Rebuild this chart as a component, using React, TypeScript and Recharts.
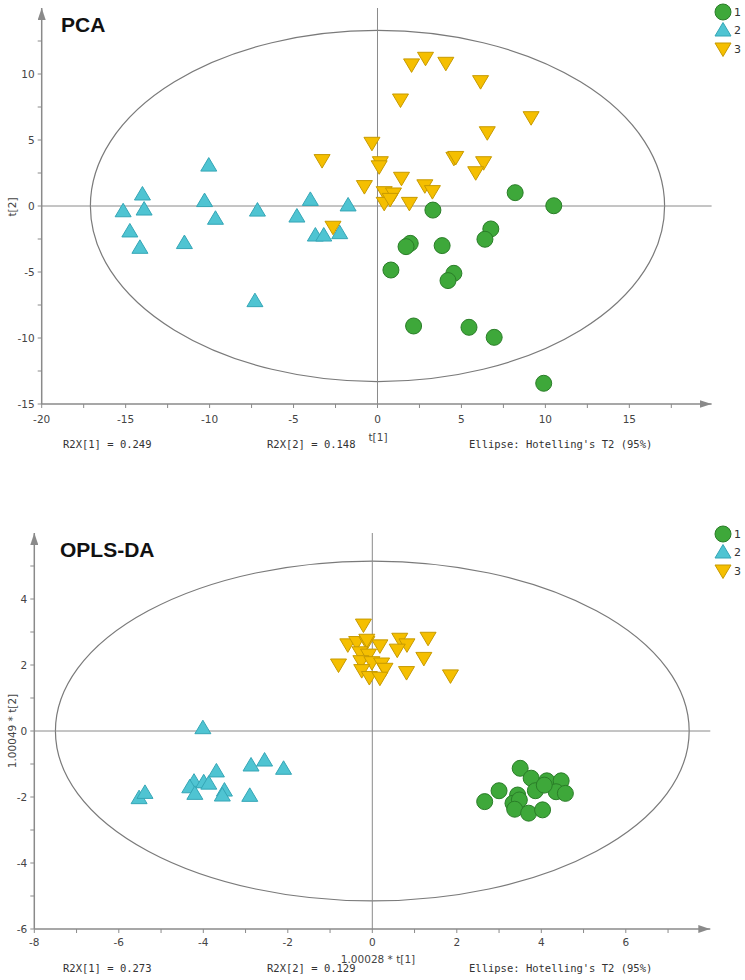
import React from 'react';
import {
  ScatterChart,
  Scatter,
  XAxis,
  YAxis,
  ReferenceLine,
  ReferenceArea,
} from 'recharts';

// score values: [x, y]
const pcaGroup1 = [
  [8.2, 1.01], [10.5, 0.02], [3.3, -0.31], [6.75, -1.74], [6.4, -2.52],
  [1.95, -2.83], [1.7, -3.08], [3.85, -3.0], [0.8, -4.85], [4.55, -5.1],
  [4.2, -5.65], [2.15, -9.09], [5.45, -9.19], [6.95, -9.95], [9.9, -13.43],
];
const pcaGroup2 = [
  [-10.05, 3.1], [-14.0, 0.91], [-15.15, -0.36], [-13.9, -0.23], [-10.3, 0.41],
  [-9.65, -0.93], [-7.15, -0.31], [-14.75, -1.89], [-14.15, -3.13], [-11.5, -2.77],
  [-7.3, -7.17], [-4.8, -0.76], [-4.0, 0.5], [-1.75, 0.08], [-3.7, -2.2],
  [-3.2, -2.2], [-2.25, -2.02],
];
const pcaGroup3 = [
  [-3.3, 3.44], [-2.65, -1.61], [-0.78, 1.47], [-0.33, 4.75], [0.17, 3.28],
  [0.1, 2.97], [0.4, 1.01], [0.95, 0.91], [0.4, 0.2], [0.75, 0.5],
  [1.9, 0.2], [1.43, 2.1], [2.82, 1.53], [3.27, 1.09], [2.03, 10.69],
  [2.86, 11.19], [4.07, 10.81], [6.14, 9.42], [1.37, 8.03], [9.15, 6.69],
  [6.54, 5.55], [4.55, 3.61], [4.66, 3.68], [6.32, 3.28], [5.85, 2.52],
];

const oplsGroup1 = [
  [3.5, -1.13], [3.76, -1.43], [4.13, -1.51], [4.47, -1.51], [3.0, -1.81],
  [2.66, -2.14], [3.86, -1.81], [4.35, -1.84], [4.57, -1.89], [3.44, -1.94],
  [3.33, -2.19], [3.48, -2.09], [3.37, -2.37], [3.7, -2.49], [4.03, -2.39],
  [4.07, -1.64],
];
const oplsGroup2 = [
  [-4.01, 0.1], [-5.52, -2.02], [-5.38, -1.86], [-4.22, -1.52], [-4.32, -1.69],
  [-4.2, -1.89], [-3.99, -1.54], [-3.87, -1.58], [-3.69, -1.21], [-3.5, -1.79],
  [-3.55, -1.94], [-2.87, -1.03], [-2.55, -0.88], [-2.1, -1.13], [-2.9, -1.95],
];
const oplsGroup3 = [
  [-0.21, 3.21], [-0.58, 2.61], [-0.37, 2.68], [-0.13, 2.68], [-0.13, 2.75],
  [0.18, 2.58], [0.65, 2.78], [0.82, 2.61], [0.59, 2.45], [1.32, 2.81],
  [1.22, 2.2], [-0.8, 2.0], [-0.29, 2.37], [-0.09, 2.3], [-0.27, 2.1],
  [-0.01, 2.07], [0.22, 2.03], [0.3, 1.87], [-0.25, 1.83], [-0.07, 1.62],
  [0.18, 1.6], [0.81, 1.77], [1.85, 1.67],
];

const pcaXTicks = [-20, -17.5, -15, -12.5, -10, -7.5, -5, -2.5, 0, 2.5, 5, 7.5, 10, 12.5, 15, 17.5];
const pcaYTicks = [-15, -12.5, -10, -7.5, -5, -2.5, 0, 2.5, 5, 7.5, 10, 12.5];
const oplsXTicks = [-8, -7, -6, -5, -4, -3, -2, -1, 0, 1, 2, 3, 4, 5, 6, 7];
const oplsYTicks = [-6, -5, -4, -3, -2, -1, 0, 1, 2, 3, 4, 5];

const classNames = ['1', '2', '3'];

const GREEN = '#3ea83a';
const GREEN_EDGE = '#2a7d28';
const CYAN = '#4fc4d2';
const CYAN_EDGE = '#35a6b6';
const GOLD = '#f5bf00';
const GOLD_EDGE = '#c79a00';
const AXIS = '#8a8a8a';

const toPoints = (pairs: number[][]) => pairs.map(([x, y]) => ({ x, y }));

function Circle({ cx, cy }: any) {
  return <circle cx={cx} cy={cy} r={8} fill={GREEN} stroke={GREEN_EDGE} strokeWidth={1} />;
}

function UpTriangle({ cx, cy }: any) {
  return (
    <path
      d={`M${cx},${cy - 7.5} L${cx + 8},${cy + 6} L${cx - 8},${cy + 6} Z`}
      fill={CYAN}
      stroke={CYAN_EDGE}
      strokeWidth={1}
    />
  );
}

function DownTriangle({ cx, cy }: any) {
  return (
    <path
      d={`M${cx - 8},${cy - 6} L${cx + 8},${cy - 6} L${cx},${cy + 7.5} Z`}
      fill={GOLD}
      stroke={GOLD_EDGE}
      strokeWidth={1}
    />
  );
}

function EllipseShape({ x, y, width, height }: any) {
  return (
    <ellipse
      cx={x + width / 2}
      cy={y + height / 2}
      rx={width / 2}
      ry={height / 2}
      fill="none"
      stroke="#7a7a7a"
      strokeWidth={1.2}
    />
  );
}

interface ScorePlotProps {
  top: number;
  height: number;
  margin: { top: number; right: number; bottom: number; left: number };
  yAxisWidth: number;
  xAxisHeight: number;
  xTickMargin: number;
  xDomain: [number, number];
  yDomain: [number, number];
  xTicks: number[];
  yTicks: number[];
  labelStep: number;
  ellipse: [number, number];
  groups: number[][][];
}

function ScorePlot({
  top,
  height,
  margin,
  yAxisWidth,
  xAxisHeight,
  xTickMargin,
  xDomain,
  yDomain,
  xTicks,
  yTicks,
  labelStep,
  ellipse,
  groups,
}: ScorePlotProps) {
  const fmt = (v: number) => (Math.abs(v % labelStep) < 1e-9 ? String(v) : '');
  const tickStyle = { fontSize: 10.5, fill: '#444', fontFamily: 'DejaVu Sans' };
  const shapes = [Circle, UpTriangle, DownTriangle];

  return (
    <div style={{ position: 'absolute', left: 0, top }}>
      <ScatterChart width={745} height={height} margin={margin}>
        <XAxis
          type="number"
          dataKey="x"
          domain={xDomain}
          ticks={xTicks}
          tickFormatter={fmt}
          allowDataOverflow
          height={xAxisHeight}
          tick={tickStyle}
          tickSize={4}
          tickMargin={xTickMargin}
          tickLine={{ stroke: AXIS }}
          axisLine={{ stroke: AXIS, strokeWidth: 1.5, markerEnd: 'url(#axisArrow)' }}
          interval={0}
        />
        <YAxis
          type="number"
          dataKey="y"
          domain={yDomain}
          ticks={yTicks}
          tickFormatter={fmt}
          allowDataOverflow
          width={yAxisWidth}
          tick={tickStyle}
          tickSize={4}
          tickMargin={3}
          tickLine={{ stroke: AXIS }}
          axisLine={{ stroke: AXIS, strokeWidth: 1.5, markerStart: 'url(#axisArrow)' }}
          interval={0}
        />
        <ReferenceLine x={0} stroke={AXIS} strokeWidth={1} />
        <ReferenceLine y={0} stroke={AXIS} strokeWidth={1} />
        <ReferenceArea
          x1={-ellipse[0]}
          x2={ellipse[0]}
          y1={-ellipse[1]}
          y2={ellipse[1]}
          shape={EllipseShape}
        />
        {groups.map((g, i) => {
          const Shape = shapes[i];
          return (
            <Scatter
              key={i}
              name={classNames[i]}
              data={toPoints(g)}
              shape={(p: any) => <Shape {...p} />}
              isAnimationActive={false}
            />
          );
        })}
      </ScatterChart>
    </div>
  );
}

function ClassLegend({ top }: { top: number }) {
  return (
    <svg width={42} height={60} style={{ position: 'absolute', left: 703, top }}>
      <Circle cx={20} cy={12} />
      <UpTriangle cx={20} cy={30} />
      <DownTriangle cx={20} cy={49} />
      {classNames.map((c, i) => (
        <text
          key={c}
          x={31}
          y={[16, 34, 53][i]}
          fontSize={11}
          fill="#333"
          fontFamily="DejaVu Sans"
        >
          {c}
        </text>
      ))}
    </svg>
  );
}

const monoStyle: React.CSSProperties = {
  position: 'absolute',
  fontFamily: 'DejaVu Sans Mono',
  fontSize: 10.5,
  color: '#333',
  whiteSpace: 'nowrap',
  lineHeight: '12px',
};

const labelStyle: React.CSSProperties = {
  position: 'absolute',
  fontFamily: 'DejaVu Sans',
  fontSize: 10.5,
  color: '#444',
  whiteSpace: 'nowrap',
  lineHeight: '12px',
};

const titleStyle: React.CSSProperties = {
  position: 'absolute',
  fontFamily: 'Liberation Sans',
  fontWeight: 'bold',
  fontSize: 21,
  color: '#111',
  lineHeight: '24px',
};

export default function App() {
  return (
    <div
      style={{
        position: 'absolute',
        left: 0,
        top: 0,
        width: 745,
        height: 980,
        background: '#fff',
        overflow: 'hidden',
      }}
    >
      <svg width={0} height={0} style={{ position: 'absolute' }}>
        <defs>
          <marker
            id="axisArrow"
            viewBox="0 0 12 8"
            refX={12}
            refY={4}
            markerWidth={12}
            markerHeight={8}
            markerUnits="userSpaceOnUse"
            orient="auto-start-reverse"
          >
            <path d="M0,0 L12,4 L0,8 Z" fill={AXIS} />
          </marker>
        </defs>
      </svg>

      {/* PCA score plot */}
      <ScorePlot
        top={0}
        height={440}
        margin={{ top: 8, right: 33.4, bottom: 6, left: 0 }}
        yAxisWidth={41.7}
        xAxisHeight={30}
        xTickMargin={8}
        xDomain={[-20, 19.9]}
        yDomain={[-15, 15]}
        xTicks={pcaXTicks}
        yTicks={pcaYTicks}
        labelStep={5}
        ellipse={[17.1, 13.3]}
        groups={[pcaGroup1, pcaGroup2, pcaGroup3]}
      />
      <div style={{ ...titleStyle, left: 61, top: 13 }}>PCA</div>
      <ClassLegend top={0} />
      <div style={{ ...labelStyle, left: 12, top: 207, transform: 'translate(-50%, -50%) rotate(-90deg)' }}>
        t[2]
      </div>
      <div style={{ ...labelStyle, left: 378, top: 431, transform: 'translateX(-50%)' }}>t[1]</div>
      <div style={{ ...monoStyle, left: 63, top: 438 }}>R2X[1] = 0.249</div>
      <div style={{ ...monoStyle, left: 267, top: 438 }}>R2X[2] = 0.148</div>
      <div style={{ ...monoStyle, left: 469, top: 438 }}>Ellipse: Hotelling's T2 (95%)</div>

      {/* OPLS-DA score plot */}
      <ScorePlot
        top={490}
        height={470}
        margin={{ top: 43, right: 34.7, bottom: 6, left: 0 }}
        yAxisWidth={34.3}
        xAxisHeight={25}
        xTickMargin={6}
        xDomain={[-8, 8]}
        yDomain={[-6, 6]}
        xTicks={oplsXTicks}
        yTicks={oplsYTicks}
        labelStep={2}
        ellipse={[7.5, 5.15]}
        groups={[oplsGroup1, oplsGroup2, oplsGroup3]}
      />
      <div style={{ ...titleStyle, left: 60, top: 538 }}>OPLS-DA</div>
      <ClassLegend top={522} />
      <div style={{ ...labelStyle, left: 12, top: 731, transform: 'translate(-50%, -50%) rotate(-90deg)' }}>
        1.00049 * t[2]
      </div>
      <div style={{ ...labelStyle, left: 378, top: 953, transform: 'translateX(-50%)' }}>1.00028 * t[1]</div>
      <div style={{ ...monoStyle, left: 63, top: 962 }}>R2X[1] = 0.273</div>
      <div style={{ ...monoStyle, left: 267, top: 962 }}>R2X[2] = 0.129</div>
      <div style={{ ...monoStyle, left: 469, top: 962 }}>Ellipse: Hotelling's T2 (95%)</div>
    </div>
  );
}
